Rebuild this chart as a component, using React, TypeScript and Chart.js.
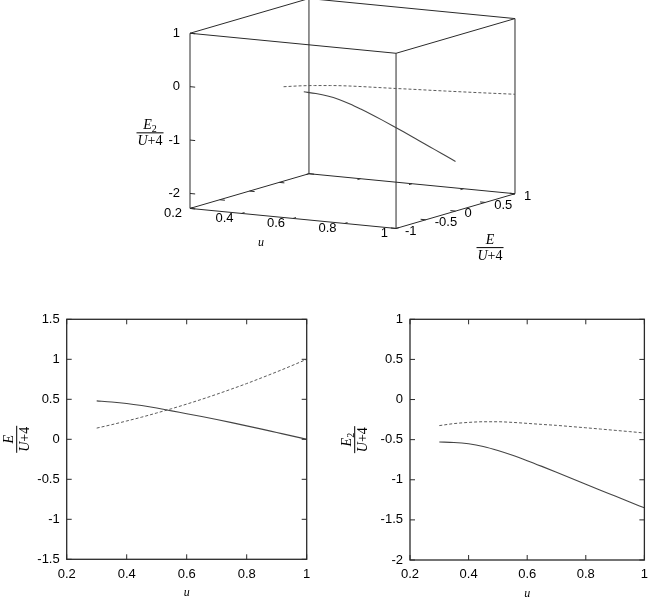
import React, { useEffect, useRef } from "react";
import { Chart, registerables } from "chart.js";

Chart.register(...registerables);

// ---------------- data ----------------
const uValues = [0.3, 0.35, 0.4, 0.45, 0.5, 0.55, 0.6, 0.65, 0.7, 0.75, 0.8, 0.85, 0.9, 0.95, 1.0];
const energySolid = [0.48, 0.467, 0.448, 0.422, 0.391, 0.355, 0.32, 0.284, 0.247, 0.208, 0.168, 0.127, 0.085, 0.043, 0.0];
const energyDashed = [0.14, 0.183, 0.229, 0.277, 0.329, 0.383, 0.44, 0.5, 0.563, 0.629, 0.697, 0.769, 0.843, 0.92, 1.0];
const e2Solid = [-0.53, -0.535, -0.552, -0.585, -0.635, -0.695, -0.762, -0.833, -0.906, -0.98, -1.055, -1.13, -1.203, -1.277, -1.35];
const e2Dashed = [-0.325, -0.3, -0.285, -0.277, -0.277, -0.285, -0.297, -0.31, -0.322, -0.337, -0.352, -0.368, -0.384, -0.4, -0.417];

const uTicks = [0.2, 0.4, 0.6, 0.8, 1];
const energyTicks = [-1.5, -1, -0.5, 0, 0.5, 1, 1.5];
const e2Ticks = [-2, -1.5, -1, -0.5, 0, 0.5, 1];

const cubeUTicks = [0.2, 0.4, 0.6, 0.8, 1];
const cubeETicks = [-1, -0.5, 0, 0.5, 1];
const cubeZTicks = [-2, -1, 0, 1];
const cubeURange = [0.2, 1];
const cubeERange = [-1, 1];
const cubeZRange = [-2.28, 1];

// ---------------- styles ----------------
const TICK_FONT = '"Liberation Sans", Arial, sans-serif';
const SERIF = '"Liberation Serif", "Times New Roman", serif';
const FRAME_COLOR = "#2a2a2a";
const SOLID_COLOR = "#444444";
const DASHED_COLOR = "#5a5a5a";
const DASH = [3, 2];

// 3D view (orthographic, gnuplot-like)
const VIEW_ROT_X = 80.3;
const VIEW_ROT_Z = 30;
const VIEW_Z_SCALE = 0.747;
const CUBE_W = 655;
const CUBE_H = 270;
const CUBE_CENTER_X = 352.5;
const CUBE_CENTER_Y = 113.5;
const CUBE_PX_PER_UNIT = 237.9;

function project(u: number, e: number, z: number) {
  const nx = (u - cubeURange[0]) / (cubeURange[1] - cubeURange[0]) - 0.5;
  const ny = (e - cubeERange[0]) / (cubeERange[1] - cubeERange[0]) - 0.5;
  const nz = (z - cubeZRange[0]) / (cubeZRange[1] - cubeZRange[0]) - 0.5;
  const rz = (VIEW_ROT_Z * Math.PI) / 180;
  const rx = (VIEW_ROT_X * Math.PI) / 180;
  return {
    x: nx * Math.cos(rz) + ny * Math.sin(rz),
    y: (-nx * Math.sin(rz) + ny * Math.cos(rz)) * Math.cos(rx) + nz * Math.sin(rx) * VIEW_Z_SCALE,
  };
}

function drawFraction(ctx: CanvasRenderingContext2D, cx: number, cy: number, sub: string) {
  const italic = `italic 14px ${SERIF}`;
  const upright = `14px ${SERIF}`;
  const subFont = `10px ${SERIF}`;
  ctx.font = italic;
  const wE = ctx.measureText("E").width;
  const wU = ctx.measureText("U").width;
  ctx.font = subFont;
  const wS = sub ? ctx.measureText(sub).width : 0;
  ctx.font = upright;
  const wP = ctx.measureText("+4").width;
  const numW = wE + wS;
  const denW = wU + wP;
  const barW = Math.max(numW, denW) + 2;
  ctx.fillStyle = "#000";
  ctx.textAlign = "left";
  ctx.textBaseline = "alphabetic";
  let x = cx - numW / 2;
  ctx.font = italic;
  ctx.fillText("E", x, cy - 3.5);
  if (sub) {
    ctx.font = subFont;
    ctx.fillText(sub, x + wE, cy - 0.5);
  }
  ctx.fillRect(cx - barW / 2, cy - 0.5, barW, 1);
  x = cx - denW / 2;
  ctx.font = italic;
  ctx.fillText("U", x, cy + 12);
  ctx.font = upright;
  ctx.fillText("+4", x + wU, cy + 12);
}

// ---------------- 3D cube plugin ----------------
const cubePlugin = {
  id: "cube3d",
  beforeDatasetsDraw(chart: any) {
    const { ctx, scales } = chart;
    const P = (u: number, e: number, z: number) => {
      const p = project(u, e, z);
      return { x: scales.x.getPixelForValue(p.x), y: scales.y.getPixelForValue(p.y) };
    };
    const [u0, u1] = cubeURange;
    const [e0, e1] = cubeERange;
    const [z0, z1] = cubeZRange;
    ctx.save();
    ctx.strokeStyle = FRAME_COLOR;
    ctx.lineWidth = 1;
    const line = (a: any, b: any) => {
      ctx.moveTo(a.x, a.y);
      ctx.lineTo(b.x, b.y);
    };
    ctx.beginPath();
    const us = [u0, u1];
    const es = [e0, e1];
    const zs = [z0, z1];
    for (const e of es) for (const z of zs) line(P(u0, e, z), P(u1, e, z));
    for (const u of us) for (const z of zs) line(P(u, e0, z), P(u, e1, z));
    for (const u of us) for (const e of es) line(P(u, e, z0), P(u, e, z1));
    // ticks
    const tu = 0.025 * (u1 - u0);
    const te = 0.025 * (e1 - e0);
    for (const u of cubeUTicks) {
      line(P(u, e0, z0), P(u, e0 + te, z0));
      line(P(u, e1, z0), P(u, e1 - te, z0));
    }
    for (const e of cubeETicks) {
      line(P(u1, e, z0), P(u1 - tu, e, z0));
      line(P(u0, e, z0), P(u0 + tu, e, z0));
    }
    for (const z of cubeZTicks) line(P(u0, e0, z), P(u0 + tu, e0, z));
    ctx.stroke();

    // tick labels
    ctx.fillStyle = "#000";
    ctx.font = `13px ${TICK_FONT}`;
    ctx.textBaseline = "middle";
    ctx.textAlign = "right";
    for (const z of cubeZTicks) {
      const p = P(u0, e0, z);
      ctx.fillText(String(z), p.x - 10, p.y);
    }
    for (const u of cubeUTicks) {
      const p = P(u, e0, z0);
      ctx.fillText(String(u), p.x - 8, p.y + 5);
    }
    ctx.textAlign = "left";
    for (const e of cubeETicks) {
      const p = P(u1, e, z0);
      ctx.fillText(String(e), p.x + 9, p.y + 2.5);
    }
    // axis titles
    const mu = P((u0 + u1) / 2, e0, z0);
    ctx.font = `italic 12px ${SERIF}`;
    ctx.textAlign = "center";
    ctx.fillText("u", mu.x - 32, mu.y + 24);
    const me = P(u1, (e0 + e1) / 2, z0);
    drawFraction(ctx, me.x + 34.5, me.y + 36.5, "");
    const mz = P(u0, e0, (z0 + z1) / 2);
    drawFraction(ctx, mz.x - 40, mz.y + 12, "2");
    ctx.restore();
  },
};

// ---------------- 2D frame plugin ----------------
const framePlugin = {
  id: "gnuFrame",
  afterDatasetsDraw(chart: any, _args: any, opts: any) {
    const { ctx, chartArea: a, scales } = chart;
    const { x, y } = scales;
    const T = 5;
    ctx.save();
    ctx.strokeStyle = FRAME_COLOR;
    ctx.lineWidth = 1.3;
    ctx.strokeRect(a.left, a.top, a.right - a.left, a.bottom - a.top);
    ctx.beginPath();
    for (const t of x.ticks) {
      const px = x.getPixelForValue(t.value);
      ctx.moveTo(px, a.bottom);
      ctx.lineTo(px, a.bottom - T);
      ctx.moveTo(px, a.top);
      ctx.lineTo(px, a.top + T);
    }
    for (const t of y.ticks) {
      const py = y.getPixelForValue(t.value);
      ctx.moveTo(a.left, py);
      ctx.lineTo(a.left + T, py);
      ctx.moveTo(a.right, py);
      ctx.lineTo(a.right - T, py);
    }
    ctx.lineWidth = 1;
    ctx.stroke();
    // x title
    ctx.fillStyle = "#000";
    ctx.font = `italic 12px ${SERIF}`;
    ctx.textAlign = "center";
    ctx.textBaseline = "middle";
    ctx.fillText("u", (a.left + a.right) / 2, a.bottom + 33.5);
    // y title (rotated fraction)
    ctx.save();
    ctx.translate(a.left + opts.titleOffsetX, (a.top + a.bottom) / 2);
    ctx.rotate(-Math.PI / 2);
    drawFraction(ctx, 0, 0, opts.sub);
    ctx.restore();
    ctx.restore();
  },
};

function lineDataset(data: any[], color: string, dashed: boolean) {
  return {
    data,
    showLine: true,
    pointRadius: 0,
    borderColor: color,
    borderWidth: dashed ? 1 : 1.1,
    borderDash: dashed ? DASH : [],
    cubicInterpolationMode: "monotone",
    fill: false,
  };
}

function makeCubeConfig(): any {
  const solid = uValues.map((u, i) => project(u, energySolid[i], e2Solid[i]));
  const dashed = uValues.map((u, i) => project(u, energyDashed[i], e2Dashed[i]));
  return {
    type: "scatter",
    data: {
      datasets: [lineDataset(solid, SOLID_COLOR, false), lineDataset(dashed, DASHED_COLOR, true)],
    },
    options: {
      animation: false,
      responsive: false,
      events: [],
      layout: { padding: 0 },
      plugins: { legend: { display: false }, tooltip: { enabled: false } },
      scales: {
        x: { type: "linear", display: false, min: -CUBE_CENTER_X / CUBE_PX_PER_UNIT, max: (CUBE_W - CUBE_CENTER_X) / CUBE_PX_PER_UNIT },
        y: { type: "linear", display: false, min: -(CUBE_H - CUBE_CENTER_Y) / CUBE_PX_PER_UNIT, max: CUBE_CENTER_Y / CUBE_PX_PER_UNIT },
      },
    },
    plugins: [cubePlugin],
  };
}

function makeLineConfig(p: {
  solid: number[];
  dashed: number[];
  yTicks: number[];
  yAxisWidth: number;
  xAxisHeight: number;
  padTop: number;
  padRight: number;
  titleOffsetX: number;
  sub: string;
}): any {
  const font = { family: TICK_FONT, size: 13 };
  return {
    type: "scatter",
    data: {
      datasets: [
        lineDataset(uValues.map((u, i) => ({ x: u, y: p.solid[i] })), SOLID_COLOR, false),
        lineDataset(uValues.map((u, i) => ({ x: u, y: p.dashed[i] })), DASHED_COLOR, true),
      ],
    },
    options: {
      animation: false,
      responsive: false,
      events: [],
      layout: { padding: { top: p.padTop, right: p.padRight, left: 0, bottom: 0 } },
      plugins: { legend: { display: false }, tooltip: { enabled: false }, gnuFrame: { titleOffsetX: p.titleOffsetX, sub: p.sub } },
      scales: {
        x: {
          type: "linear",
          min: uTicks[0],
          max: uTicks[uTicks.length - 1],
          afterBuildTicks: (s: any) => {
            s.ticks = uTicks.map((v) => ({ value: v }));
          },
          afterFit: (s: any) => {
            s.height = p.xAxisHeight;
          },
          ticks: { font, color: "#000", padding: 7, maxRotation: 0, autoSkip: false, callback: (v: any) => String(v) },
          grid: { display: false, drawTicks: false },
          border: { display: false },
        },
        y: {
          type: "linear",
          min: p.yTicks[0],
          max: p.yTicks[p.yTicks.length - 1],
          afterBuildTicks: (s: any) => {
            s.ticks = p.yTicks.map((v) => ({ value: v }));
          },
          afterFit: (s: any) => {
            s.width = p.yAxisWidth;
          },
          ticks: { font, color: "#000", padding: 7, autoSkip: false, callback: (v: any) => String(v) },
          grid: { display: false, drawTicks: false },
          border: { display: false },
        },
      },
    },
    plugins: [framePlugin],
  };
}

function ChartCanvas(props: { makeConfig: () => any; left: number; top: number; width: number; height: number }) {
  const ref = useRef<HTMLCanvasElement | null>(null);
  useEffect(() => {
    if (!ref.current) return;
    const chart = new Chart(ref.current, props.makeConfig());
    return () => chart.destroy();
  }, []);
  return (
    <canvas
      ref={ref}
      width={props.width}
      height={props.height}
      style={{ position: "absolute", left: props.left, top: props.top, width: props.width, height: props.height }}
    />
  );
}

export default function App() {
  return (
    <div style={{ position: "absolute", left: 0, top: 0, width: 655, height: 600, background: "#fff" }}>
      <ChartCanvas makeConfig={makeCubeConfig} left={0} top={0} width={CUBE_W} height={CUBE_H} />
      <ChartCanvas
        makeConfig={() =>
          makeLineConfig({
            solid: energySolid,
            dashed: energyDashed,
            yTicks: energyTicks,
            yAxisWidth: 66.7,
            xAxisHeight: 40.7,
            padTop: 19.3,
            padRight: 20.3,
            titleOffsetX: -50,
            sub: "",
          })
        }
        left={0}
        top={300}
        width={327}
        height={300}
      />
      <ChartCanvas
        makeConfig={() =>
          makeLineConfig({
            solid: e2Solid,
            dashed: e2Dashed,
            yTicks: e2Ticks,
            yAxisWidth: 83,
            xAxisHeight: 40,
            padTop: 19.3,
            padRight: 4,
            titleOffsetX: -55.3,
            sub: "2",
          })
        }
        left={327}
        top={300}
        width={328}
        height={300}
      />
    </div>
  );
}
